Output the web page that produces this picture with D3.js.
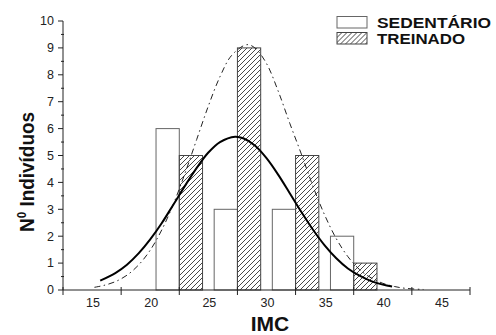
<!DOCTYPE html>
<html>
<head>
<meta charset="utf-8">
<script src="https://cdn.jsdelivr.net/npm/d3@7"></script>
<style>
  body { margin: 0; background: #fff; }
  svg { display: block; font-family: "Liberation Sans", Arial, sans-serif; }
</style>
</head>
<body>
<div id="chart"></div>
<script>
// bin centres of the histogram (IMC)
var bins = [22.5, 27.5, 32.5, 37.5];
var sedentario = [6, 3, 3, 2];
var treinado = [5, 9, 5, 1];

var xTickLabels = [15, 20, 25, 30, 35, 40, 45];
var xTickMarks = [12.5, 17.5, 22.5, 27.5, 32.5, 37.5, 42.5, 47.5];
var yTickLabels = [0, 1, 2, 3, 4, 5, 6, 7, 8, 9, 10];

// normal fit curves
var sedFitX = [15.7, 17, 18, 19, 20, 21, 22, 23, 24, 25, 26, 27.3, 28, 29, 30, 31, 32, 33, 34, 35, 36, 37, 38, 39, 40, 40.8];
var sedFitY = [0.35, 0.63, 0.94, 1.36, 1.88, 2.49, 3.18, 3.88, 4.54, 5.11, 5.5, 5.7, 5.64, 5.37, 4.9, 4.29, 3.6, 2.9, 2.24, 1.66, 1.18, 0.8, 0.53, 0.33, 0.2, 0.13];
var trFitX = [15.2, 16, 17, 18, 19, 20, 21, 22, 23, 24, 25, 26, 27, 28.3, 29, 30, 31, 32, 33, 34, 35, 36, 37, 38, 39, 40, 41, 42, 43.5];
var trFitY = [0.1, 0.17, 0.31, 0.55, 0.93, 1.48, 2.24, 3.2, 4.35, 5.6, 6.84, 7.93, 8.72, 9.12, 9.0, 8.42, 7.4, 6.2, 5.05, 3.85, 2.79, 1.91, 1.24, 0.76, 0.45, 0.25, 0.13, 0.06, 0.02];

var width = 496, height = 335;
var margin = { left: 63, right: 26, top: 21, bottom: 45 };

var svg = d3.select("#chart").append("svg")
    .attr("width", width)
    .attr("height", height);

var defs = svg.append("defs");
defs.append("pattern")
    .attr("id", "hatch")
    .attr("patternUnits", "userSpaceOnUse")
    .attr("width", 5)
    .attr("height", 5)
    .append("path")
    .attr("d", "M-1,1 l2,-2 M0,5 l5,-5 M4,6 l2,-2")
    .attr("stroke", "#333")
    .attr("stroke-width", 0.9);

var x = d3.scaleLinear()
    .domain([12.5, 47.5])
    .range([margin.left, width - margin.right]);

var y = d3.scaleLinear()
    .domain([0, 10])
    .range([height - margin.bottom, margin.top]);

// bars: sedentario left of the bin centre, treinado right of it
svg.selectAll(".sed")
    .data(bins)
    .enter()
    .append("rect")
    .attr("class", "sed")
    .attr("x", function (d) { return x(d - 2); })
    .attr("y", function (d, i) { return y(sedentario[i]); })
    .attr("width", function (d) { return x(d) - x(d - 2); })
    .attr("height", function (d, i) { return y(0) - y(sedentario[i]); })
    .attr("fill", "#fff")
    .attr("stroke", "#666")
    .attr("stroke-width", 1);

svg.selectAll(".tre")
    .data(bins)
    .enter()
    .append("rect")
    .attr("class", "tre")
    .attr("x", function (d) { return x(d); })
    .attr("y", function (d, i) { return y(treinado[i]); })
    .attr("width", function (d) { return x(d + 2) - x(d); })
    .attr("height", function (d, i) { return y(0) - y(treinado[i]); })
    .attr("fill", "url(#hatch)")
    .attr("stroke", "#444")
    .attr("stroke-width", 1);

// fit curves
var line = d3.line()
    .x(function (d) { return x(d[0]); })
    .y(function (d) { return y(d[1]); })
    .curve(d3.curveCatmullRom);

svg.append("path")
    .datum(trFitX.map(function (v, i) { return [v, trFitY[i]]; }))
    .attr("d", line)
    .attr("fill", "none")
    .attr("stroke", "#222")
    .attr("stroke-width", 1)
    .attr("stroke-dasharray", "6,3.5,1.5,3.5");

svg.append("path")
    .datum(sedFitX.map(function (v, i) { return [v, sedFitY[i]]; }))
    .attr("d", line)
    .attr("fill", "none")
    .attr("stroke", "#000")
    .attr("stroke-width", 2);

// x axis
var xg = svg.append("g")
    .attr("transform", "translate(0," + y(0) + ")");
xg.append("line")
    .attr("x1", x(12.5)).attr("x2", x(47.5))
    .attr("stroke", "#222");
xg.selectAll(".xt")
    .data(xTickMarks)
    .enter()
    .append("line")
    .attr("x1", function (d) { return x(d); })
    .attr("x2", function (d) { return x(d); })
    .attr("y1", -3).attr("y2", 5)
    .attr("stroke", "#222");
xg.selectAll(".xl")
    .data(xTickLabels)
    .enter()
    .append("text")
    .attr("x", function (d) { return x(d) + 1; })
    .attr("y", 17)
    .attr("text-anchor", "middle")
    .attr("font-size", 12.5)
    .attr("fill", "#222")
    .text(function (d) { return d; });

// y axis
var yg = svg.append("g")
    .attr("transform", "translate(" + x(12.5) + ",0)");
yg.append("line")
    .attr("y1", y(0)).attr("y2", y(10))
    .attr("stroke", "#222");
yg.selectAll(".ym")
    .data(d3.range(0.5, 10, 1))
    .enter()
    .append("line")
    .attr("y1", function (d) { return y(d); })
    .attr("y2", function (d) { return y(d); })
    .attr("x1", -2).attr("x2", 1)
    .attr("stroke", "#222");
yg.selectAll(".yt")
    .data(yTickLabels)
    .enter()
    .append("line")
    .attr("y1", function (d) { return y(d); })
    .attr("y2", function (d) { return y(d); })
    .attr("x1", -5).attr("x2", 0)
    .attr("stroke", "#222");
yg.selectAll(".yl")
    .data(yTickLabels)
    .enter()
    .append("text")
    .attr("x", -9)
    .attr("y", function (d) { return y(d); })
    .attr("dy", "0.35em")
    .attr("text-anchor", "end")
    .attr("font-size", 12.5)
    .attr("fill", "#222")
    .text(function (d) { return d; });

// axis titles
svg.append("text")
    .attr("x", 270)
    .attr("y", 331)
    .attr("text-anchor", "middle")
    .attr("font-size", 21)
    .attr("font-weight", "bold")
    .attr("fill", "#111")
    .text("IMC");

var yt = svg.append("text")
    .attr("transform", "translate(34,172) rotate(-90)")
    .attr("text-anchor", "middle")
    .attr("font-size", 21)
    .attr("font-weight", "bold")
    .attr("fill", "#111")
    .attr("textLength", 120)
    .attr("lengthAdjust", "spacingAndGlyphs");
yt.append("tspan").text("N");
yt.append("tspan").attr("font-size", 13).attr("dy", -8).text("0");
yt.append("tspan").attr("dy", 8).text(" Indivíduos");

// legend
var legend = [
    { name: "SEDENTÁRIO", fill: "#fff", stroke: "#666", len: 114 },
    { name: "TREINADO", fill: "url(#hatch)", stroke: "#444", len: 88 }
];
var lg = svg.selectAll(".leg")
    .data(legend)
    .enter()
    .append("g")
    .attr("transform", function (d, i) { return "translate(337," + (16.5 + i * 16) + ")"; });
lg.append("rect")
    .attr("width", 30)
    .attr("height", 11.5)
    .attr("fill", function (d) { return d.fill; })
    .attr("stroke", function (d) { return d.stroke; });
lg.append("text")
    .attr("x", 40)
    .attr("y", 11)
    .attr("font-size", 14)
    .attr("font-weight", "bold")
    .attr("fill", "#111")
    .attr("textLength", function (d) { return d.len; })
    .attr("lengthAdjust", "spacingAndGlyphs")
    .text(function (d) { return d.name; });
</script>
</body>
</html>
